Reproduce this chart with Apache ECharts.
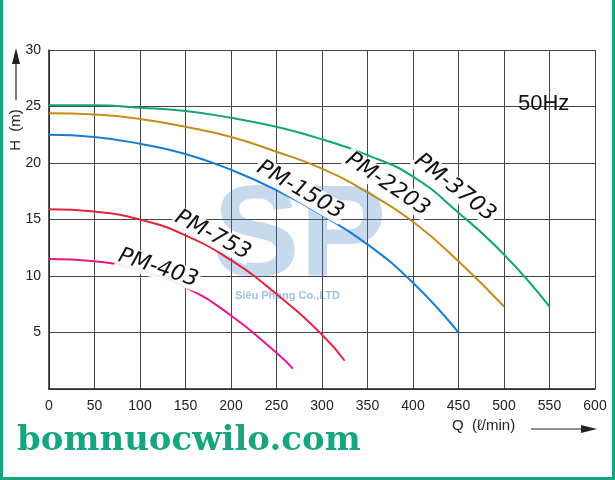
<!DOCTYPE html>
<html><head><meta charset="utf-8">
<script src="https://cdn.jsdelivr.net/npm/echarts@6/dist/echarts.min.js"></script>
<style>html,body{margin:0;padding:0;background:#fff}#c{width:615px;height:480px;box-sizing:border-box;border:3px solid #17a57f;border-top:none}</style>
</head><body><div id="c"></div>
<script>
const names=['PM-403','PM-753','PM-1503','PM-2203','PM-3703'];
const colors=['#e8168a','#e0263e','#1a7ccf','#c28d1e','#12a66e'];
const q403=[0,50,100,150,200,250,268], h403=[11.5,11.3,10.5,9,6.5,3.2,1.8];
const q753=[0,50,100,150,200,250,300,325], h753=[15.9,15.7,15,13.6,11.4,8.4,4.8,2.5];
const q1503=[0,50,100,150,200,250,300,350,400,450], h1503=[22.5,22.3,21.7,20.8,19.4,17.6,15.4,12.8,9.4,5];
const q2203=[0,50,100,150,200,250,300,350,400,450,500], h2203=[24.4,24.3,23.9,23.2,22.3,21,19.5,17.4,14.8,11.3,7.3];
const q3703=[0,50,100,150,200,250,300,350,400,450,500,550], h3703=[25.1,25.1,24.9,24.6,24,23.2,22.1,20.7,18.8,15.6,11.9,7.3];
const Q=[q403,q753,q1503,q2203,q3703], H=[h403,h753,h1503,h2203,h3703];
const labQ=[120,180,276,372,446], labH=[10.7,13.6,17.6,18.1,17.8], labRot=[18,28,30,34,38];
const c=echarts.init(document.getElementById('c'));
c.setOption({
 animation:false,
 grid:{left:46,right:17,top:50,bottom:88},
 xAxis:{type:'value',min:0,max:600,interval:50,axisLine:{lineStyle:{color:'#222',width:1.5}},axisTick:{show:false},
  axisLabel:{color:'#222',fontSize:14,fontFamily:'Liberation Sans',margin:10},splitLine:{lineStyle:{color:'#444',width:1}}},
 yAxis:{type:'value',min:0,max:30,interval:5,axisLine:{show:true,lineStyle:{color:'#222',width:1.5}},axisTick:{show:false},
  axisLabel:{color:'#222',fontSize:14,fontFamily:'Liberation Sans',formatter:v=>v===0?'':v},splitLine:{lineStyle:{color:'#444',width:1}}},
 series:names.map((n,i)=>({name:n,type:'line',smooth:true,symbol:'none',data:Q[i].map((q,j)=>[q,H[i][j]]),lineStyle:{color:colors[i],width:2},z:3}))
});
const g=[];
names.forEach((n,i)=>{const p=c.convertToPixel({gridIndex:0},[labQ[i],labH[i]]);
 g.push({type:'text',x:p[0],y:p[1],rotation:-labRot[i]*Math.PI/180,style:{text:n,font:'italic 22px "DejaVu Sans", "Liberation Sans"',fill:'#111',align:'center',verticalAlign:'middle',backgroundColor:'rgba(255,255,255,0.9)',padding:[0,2]},z:10});});
g.push({type:'text',left:515,top:93,style:{text:'50Hz',font:'22px "Liberation Sans"',fill:'#111'},z:10});
g.push({type:'text',left:210,top:175,style:{text:'SP',font:'bold 130px "Liberation Sans"',fill:'rgba(70,130,200,0.3)'},z:1});
g.push({type:'text',left:232,top:290,style:{text:'Siêu Phong Co.,LTD',font:'bold 11px "Liberation Sans"',fill:'rgba(70,130,200,0.5)'},z:1});
g.push({type:'text',left:449,top:418,style:{text:'Q  (ℓ/min)',font:'15px "Liberation Sans"',fill:'#222'}});
g.push({type:'line',shape:{x1:528,y1:429,x2:590,y2:429},style:{stroke:'#222',lineWidth:1.2}});
g.push({type:'polygon',shape:{points:[[594,429],[578,425],[578,433]]},style:{fill:'#222'}});
g.push({type:'text',x:13,y:130,rotation:Math.PI/2,style:{text:'H  (m)',font:'15px "Liberation Sans"',fill:'#222',align:'center',verticalAlign:'middle'}});
g.push({type:'line',shape:{x1:13,y1:62,x2:13,y2:100},style:{stroke:'#222',lineWidth:1.2}});
g.push({type:'polygon',shape:{points:[[13,48],[9,64],[17,64]]},style:{fill:'#222'}});
g.push({type:'text',left:14,top:424,style:{text:'bomnuocwilo.com',font:'bold 34px "DejaVu Serif", "Liberation Serif"',fill:'#17a57f'}});
c.setOption({graphic:g});
</script></body></html>
